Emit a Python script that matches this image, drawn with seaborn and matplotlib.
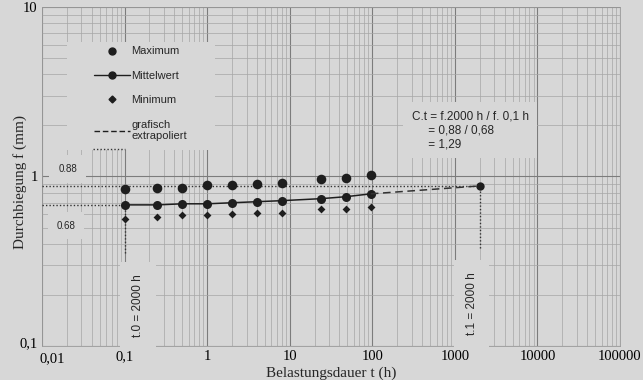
import numpy as np
import pandas as pd
import matplotlib
matplotlib.use("Agg")
import matplotlib.pyplot as plt
from matplotlib.lines import Line2D
from matplotlib.patches import Rectangle
from matplotlib.ticker import FixedLocator, LogLocator, NullFormatter
from matplotlib.transforms import ScaledTranslation
import seaborn as sns

zeit_h = [0.1, 0.25, 0.5, 1, 2, 4, 8, 24, 48, 96]
maximum = [0.84, 0.85, 0.86, 0.89, 0.89, 0.90, 0.92, 0.96, 0.98, 1.02]
mittelwert = [0.68, 0.68, 0.69, 0.69, 0.70, 0.71, 0.72, 0.74, 0.76, 0.79]
minimum = [0.56, 0.58, 0.59, 0.59, 0.60, 0.61, 0.61, 0.64, 0.64, 0.66]

# extrapolation auf 2000 h
t_extra = [96, 2000]
f_extra = [0.79, 0.88]
f_0 = 0.68
f_1 = 0.88

x_ticks = [0.01, 0.1, 1, 10, 100, 1000, 10000, 100000]
x_labels = ["0,01", "0,1", "1", "10", "100", "1000", "10000", "100000"]
y_ticks = [0.1, 1, 10]
y_labels = ["0,1", "1", "10"]

df = pd.DataFrame({"t": zeit_h, "max": maximum, "mittel": mittelwert, "min": minimum})

bg = "#d7d7d7"
ink = "#1e1e1e"
sns.set_theme(style="white")
plt.rcParams["font.family"] = ["Liberation Serif", "DejaVu Serif"]

fig = plt.figure(figsize=(6.43, 3.80), dpi=100, facecolor=bg)
ax = fig.add_axes([0.0653, 0.0895, 0.8989, 0.8921])
ax.set_facecolor(bg)
ax.set_xscale("log")
ax.set_yscale("log")
ax.set_xlim(0.01, 100000)
ax.set_ylim(0.1, 10)

# Millimeterpapier-Raster
ax.xaxis.set_minor_locator(LogLocator(base=10, subs=np.arange(2, 10)))
ax.yaxis.set_minor_locator(LogLocator(base=10, subs=np.arange(2, 10)))
ax.xaxis.set_minor_formatter(NullFormatter())
ax.yaxis.set_minor_formatter(NullFormatter())
ax.grid(which="major", color="#7c7c7c", lw=0.8)
ax.grid(which="minor", color="#a6a6a6", lw=0.5)
ax.set_axisbelow(True)
for s in ax.spines.values():
    s.set_color("#9a9a9a")
    s.set_linewidth(0.6)

ax.xaxis.set_major_locator(FixedLocator(x_ticks))
ax.set_xticklabels(x_labels)
ax.yaxis.set_major_locator(FixedLocator(y_ticks))
ax.set_yticklabels(y_labels)
ax.tick_params(which="both", length=0, labelsize=10.5, colors="black", pad=3)
# erste Beschriftung etwas nach rechts wie im Original
lbl0 = ax.get_xticklabels()[0]
lbl0.set_ha("left")
lbl0.set_transform(lbl0.get_transform() + ScaledTranslation(-0.02, -0.02, fig.dpi_scale_trans))
lbly = ax.get_yticklabels()[0]
lbly.set_transform(lbly.get_transform() + ScaledTranslation(0, 0.04, fig.dpi_scale_trans))

# Hilfslinien (gepunktet)
dots = dict(ls=(0, (1, 1.5)), color="#333333", lw=1.0, zorder=3)
ax.plot([0.01, t_extra[1]], [f_1, f_1], **dots)
ax.plot([0.01, zeit_h[0]], [f_0, f_0], **dots)
ax.plot([zeit_h[0], zeit_h[0]], [0.355, f_0], **dots)
ax.plot([t_extra[1], t_extra[1]], [0.38, f_1], **dots)

# Messpunkte
sns.lineplot(data=df, x="t", y="mittel", ax=ax, color=ink, lw=1.1,
             marker="o", markersize=6.5, markeredgewidth=0, zorder=4)
ax.plot(t_extra, f_extra, ls=(0, (5, 3)), color="#333333", lw=1.1, zorder=4)
ax.plot([t_extra[1]], [f_extra[1]], "o", color=ink, ms=6, mew=0, zorder=4)
sns.scatterplot(data=df, x="t", y="max", ax=ax, color=ink, marker="o", s=48,
                linewidth=0, zorder=4)
sns.scatterplot(data=df, x="t", y="min", ax=ax, color=ink, marker="D", s=16,
                linewidth=0, zorder=4)

ax.set_xlabel("Belastungsdauer t (h)", fontsize=11, labelpad=1)
ax.set_ylabel("Durchbiegung f (mm)", fontsize=11)
ax.yaxis.set_label_coords(-0.026, 0.484)

sans = ["Liberation Sans", "DejaVu Sans"]
box = dict(boxstyle="square,pad=0.9", fc=bg, ec="none")

# Legende
ax.add_patch(Rectangle((0.043, 0.578), 0.256, 0.319, transform=ax.transAxes,
                       fc=bg, ec="none", zorder=5))
handles = [
    Line2D([], [], ls="none", marker="o", color=ink, ms=5),
    Line2D([], [], ls="-", marker="o", color=ink, ms=5, lw=1),
    Line2D([], [], ls="none", marker="D", color=ink, ms=3.5),
    Line2D([], [], ls=(0, (4, 2)), color=ink, lw=1),
]
leg = ax.legend(handles, ["Maximum", "Mittelwert", "Minimum", "grafisch\nextrapoliert"],
                loc="upper left", bbox_to_anchor=(0.08, 0.9), frameon=False,
                prop={"family": sans, "size": 8}, handlelength=3.3,
                handletextpad=0.05, labelspacing=1.3, borderpad=0)
leg.set_zorder(6)
ax.plot([0.088, 0.144], [0.581, 0.581], transform=ax.transAxes, ls=(0, (1, 1.5)),
        color="#333333", lw=1.0, zorder=6)

# Beschriftungen
ax.text(0.028, 1.11, "0.88", fontsize=7, family=sans, ha="left", va="center",
        transform=ax.get_yaxis_transform(), bbox=box, zorder=5)
ax.text(0.025, 0.513, "0.68", fontsize=7, family=sans, ha="left", va="center",
        transform=ax.get_yaxis_transform(), bbox=box, zorder=5)
ax.text(300, 1.87, "C.t = f.2000 h / f. 0,1 h\n     = 0,88 / 0,68\n     = 1,29",
        fontsize=8.5, family=sans, ha="left", va="center", linespacing=1.2,
        bbox=dict(boxstyle="square,pad=0.7", fc=bg, ec="none"), zorder=5)
ax.text(0.145, 0.12, "t.0 = 2000 h", fontsize=8.5, family=sans, rotation=90,
        ha="center", va="center", transform=ax.get_xaxis_transform(),
        bbox=dict(boxstyle="square,pad=1.0", fc=bg, ec="none"), zorder=5)
ax.text(1600, 0.125, "t.1 = 2000 h", fontsize=8.5, family=sans, rotation=90,
        ha="center", va="center", transform=ax.get_xaxis_transform(),
        bbox=dict(boxstyle="square,pad=1.0", fc=bg, ec="none"), zorder=5)

fig.savefig("out.png", dpi=100, facecolor=bg)
